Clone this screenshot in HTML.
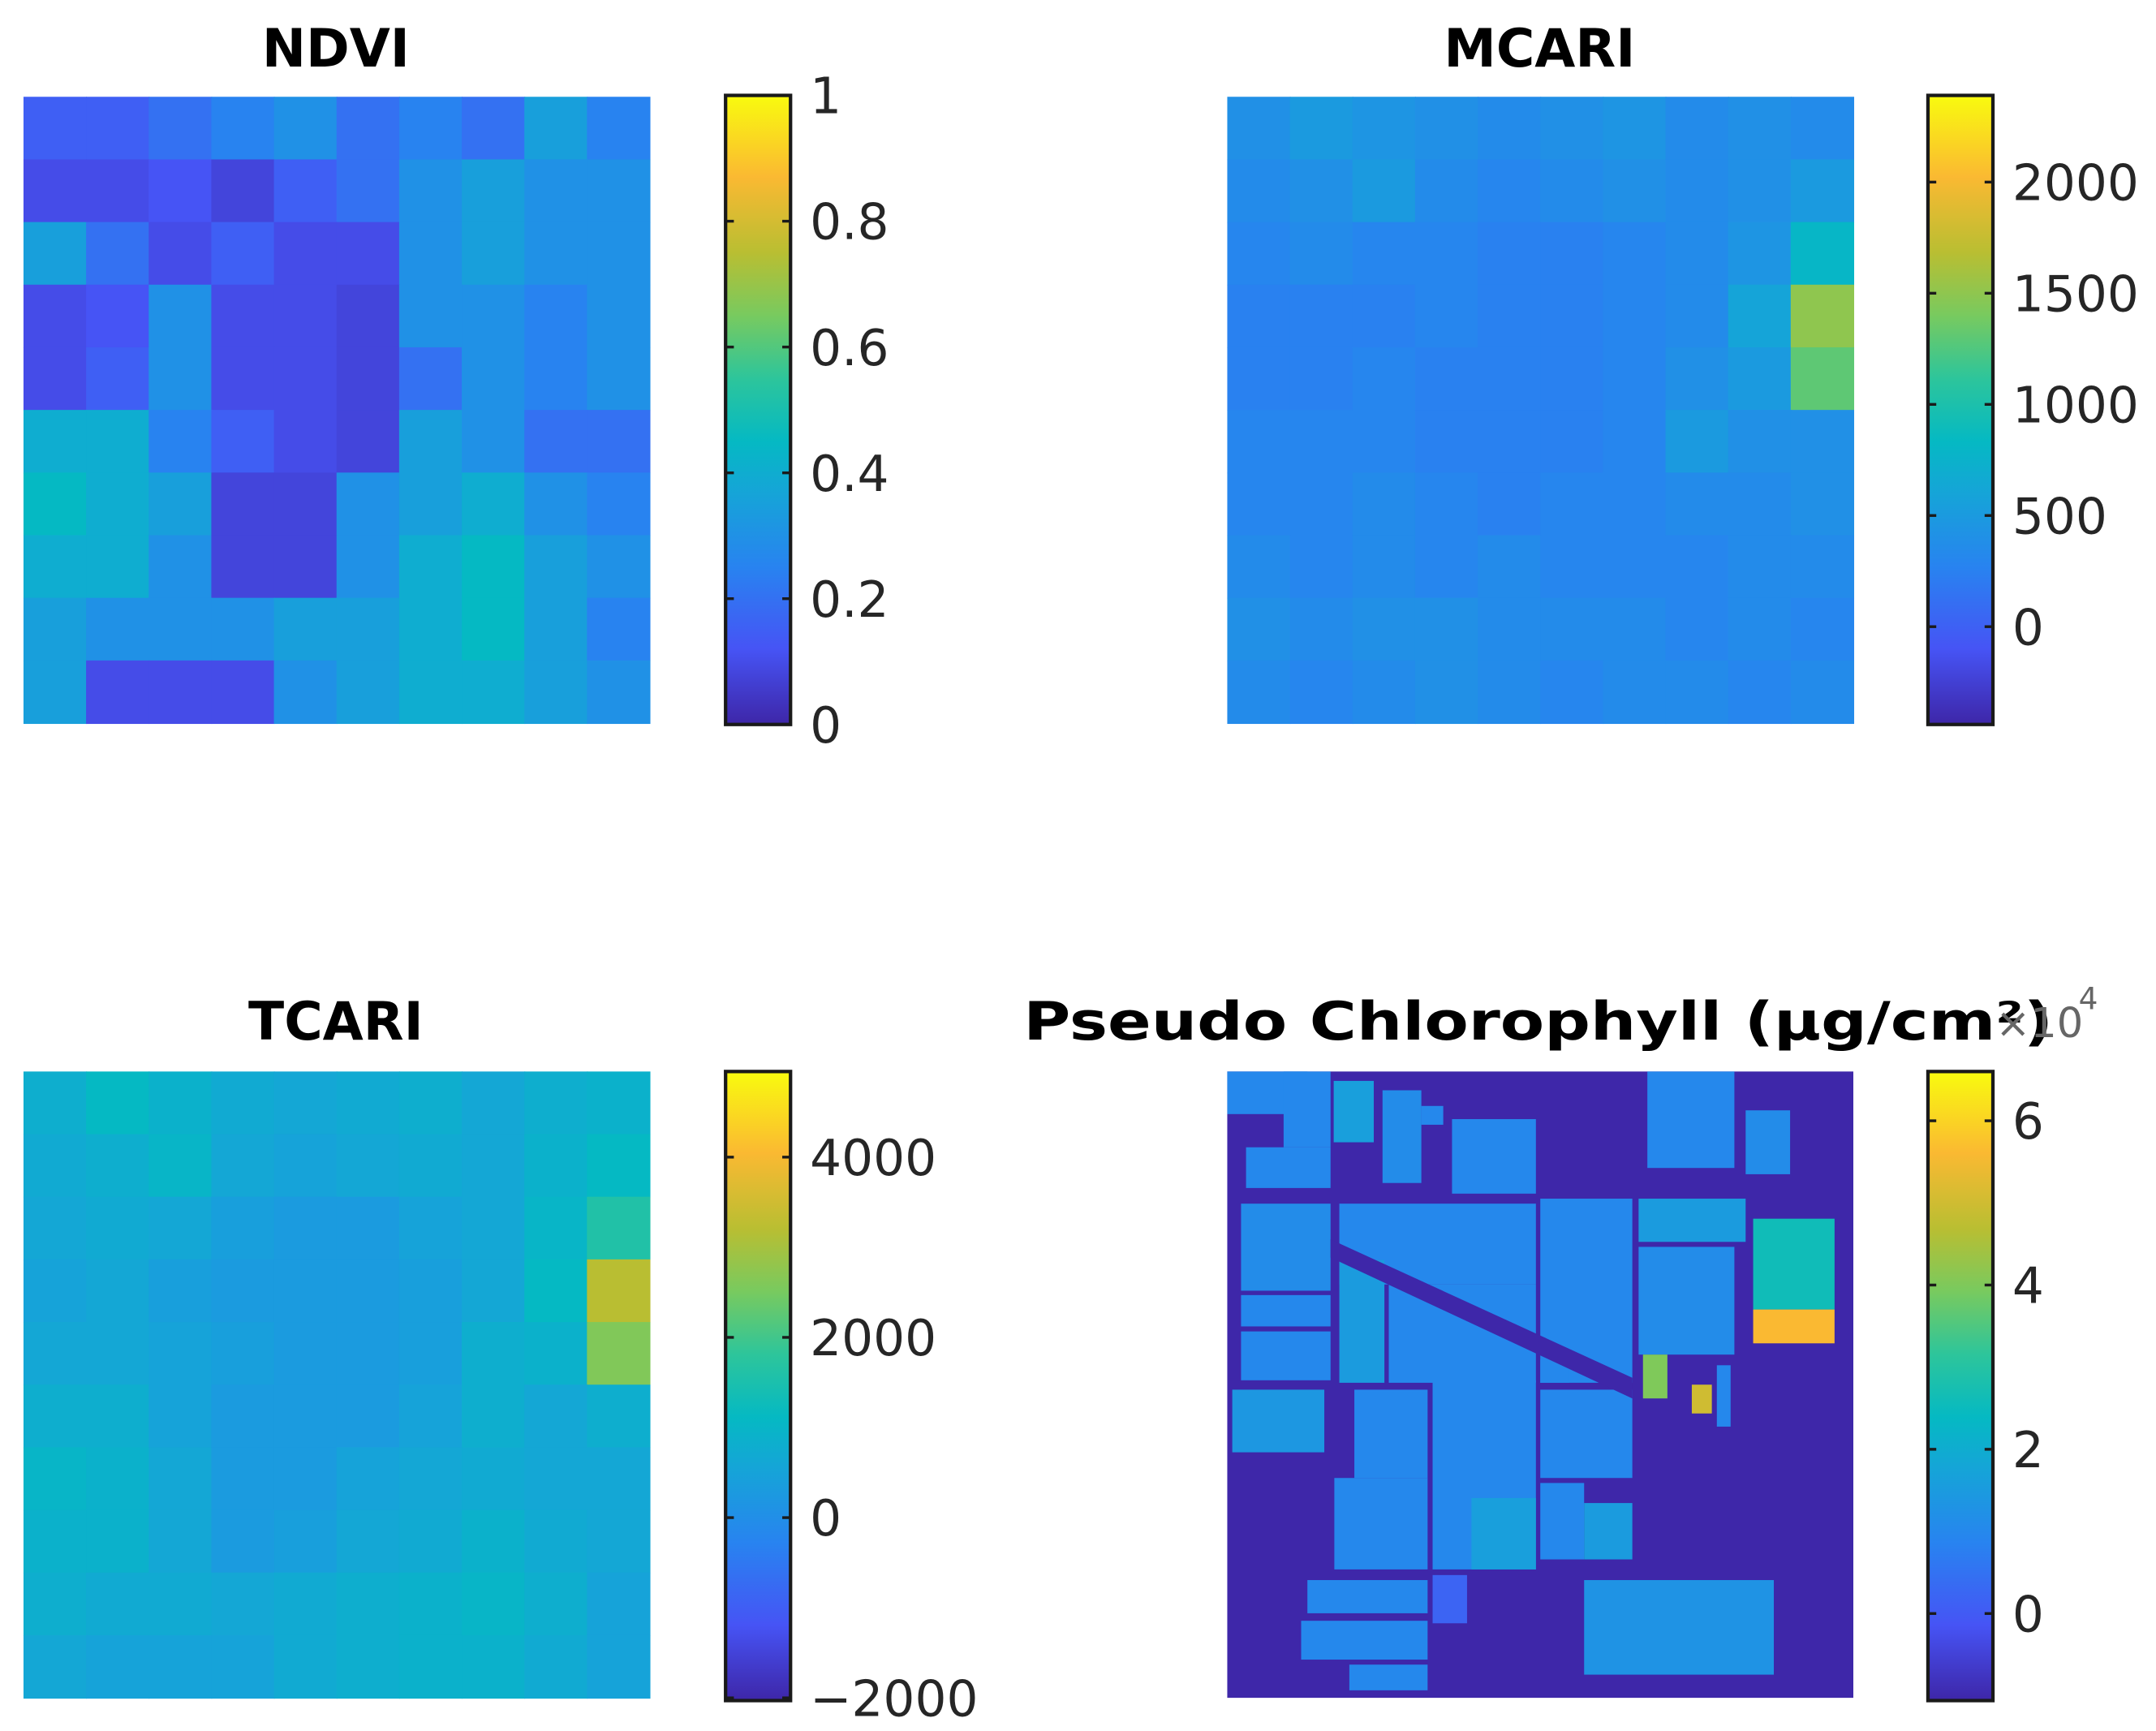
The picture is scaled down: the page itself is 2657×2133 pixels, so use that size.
<!DOCTYPE html>
<html><head><meta charset="utf-8"><style>
html,body{margin:0;padding:0;background:#fff}
svg{display:block}
text{font-family:"DejaVu Sans","Liberation Sans",sans-serif}
</style></head><body>
<svg id="fig" xmlns="http://www.w3.org/2000/svg" width="2657" height="2133" viewBox="0 0 1560 1252" preserveAspectRatio="none">
<defs>
<linearGradient id="parula" x1="0" y1="1" x2="0" y2="0">
<stop offset="0" stop-color="rgb(62,38,168)"/>
<stop offset="0.12" stop-color="rgb(70,84,245)"/>
<stop offset="0.25" stop-color="rgb(40,131,240)"/>
<stop offset="0.37" stop-color="rgb(21,165,215)"/>
<stop offset="0.45" stop-color="rgb(5,185,195)"/>
<stop offset="0.55" stop-color="rgb(45,197,155)"/>
<stop offset="0.65" stop-color="rgb(120,202,95)"/>
<stop offset="0.75" stop-color="rgb(185,190,50)"/>
<stop offset="0.87" stop-color="rgb(250,185,50)"/>
<stop offset="1" stop-color="rgb(249,251,14)"/>
</linearGradient>
</defs>
<g id="root"></g>
</svg>
<script>
// ---- data ----
const ndviGrid = [
[0.15,0.15,0.2,0.25,0.3,0.2,0.25,0.2,0.35,0.25],
[0.1,0.1,0.12,0.08,0.15,0.2,0.3,0.35,0.3,0.3],
[0.35,0.2,0.1,0.15,0.1,0.1,0.3,0.35,0.3,0.3],
[0.1,0.12,0.3,0.1,0.1,0.08,0.3,0.3,0.25,0.3],
[0.1,0.15,0.3,0.1,0.1,0.08,0.2,0.3,0.25,0.3],
[0.4,0.4,0.25,0.15,0.1,0.08,0.35,0.3,0.2,0.2],
[0.45,0.4,0.35,0.08,0.08,0.3,0.35,0.4,0.3,0.25],
[0.4,0.4,0.3,0.08,0.08,0.3,0.4,0.45,0.35,0.3],
[0.35,0.3,0.3,0.3,0.35,0.35,0.4,0.45,0.35,0.25],
[0.35,0.1,0.1,0.1,0.3,0.35,0.4,0.4,0.35,0.3]];
const mcariGrid = [
[400,500,450,400,350,400,450,350,400,350],
[350,400,500,350,300,350,400,350,400,500],
[300,350,300,300,250,250,300,350,450,800],
[250,250,250,300,250,250,300,350,600,1500],
[250,250,300,250,250,250,300,400,500,1300],
[300,300,300,250,250,250,300,500,400,400],
[300,300,350,300,250,300,300,350,350,400],
[350,300,350,300,350,300,300,300,350,350],
[400,350,400,400,350,350,350,300,350,300],
[350,300,350,400,350,300,350,350,300,350]];
const tcariGrid = [
[800,1100,900,700,600,700,800,600,800,900],
[700,800,1000,600,500,600,700,600,900,1100],
[600,700,600,400,300,300,500,600,1000,1600],
[500,600,400,300,300,300,400,600,1100,3200],
[600,600,500,400,300,300,400,800,900,2600],
[800,800,500,300,300,300,500,800,600,800],
[1000,900,600,300,300,500,600,700,600,600],
[900,900,600,300,400,600,700,900,700,600],
[800,700,700,600,700,800,900,1000,800,500],
[600,500,500,500,700,800,900,900,700,500]];
// pseudo chlorophyll fields: [u0,v0,u1,v1,value(x1e4)] in image fractions
const chlBackground = -1.05;
const chlFields = [
[0,0,0.128,0.068,1],[0.09,0,0.165,0.121,1],[0.03,0.121,0.165,0.186,1],
[0.17,0.015,0.234,0.113,1.6],[0.248,0.03,0.31,0.178,1.1],[0.31,0.055,0.345,0.085,1],
[0.359,0.076,0.493,0.195,1],[0.671,0,0.81,0.154,1],[0.828,0.062,0.899,0.164,1.1],
[0.022,0.211,0.165,0.35,1.1],[0.179,0.211,0.493,0.34,1],[0.022,0.357,0.165,0.407,1],
[0.022,0.415,0.165,0.493,1],[0.179,0.301,0.251,0.497,1.5],[0.258,0.34,0.493,0.497,1],
[0.5,0.203,0.647,0.497,1],[0.657,0.203,0.828,0.272,1.5],[0.657,0.28,0.81,0.452,1.1],
[0.84,0.235,0.97,0.38,2.6],[0.84,0.38,0.97,0.434,5.6],
[0.008,0.508,0.155,0.608,1.4],[0.203,0.508,0.32,0.649,1],[0.328,0.493,0.493,0.795,1],
[0.171,0.649,0.32,0.795,1],[0.39,0.681,0.493,0.795,1.6],[0.5,0.508,0.647,0.649,1],
[0.5,0.657,0.57,0.779,1],[0.57,0.689,0.647,0.779,1.5],[0.128,0.812,0.32,0.865,1],
[0.118,0.877,0.32,0.939,1],[0.195,0.947,0.32,0.988,1],[0.328,0.804,0.383,0.881,0.2],
[0.57,0.812,0.873,0.963,1.3],[0.664,0.452,0.703,0.522,4],[0.742,0.5,0.774,0.546,5],
[0.782,0.469,0.804,0.567,1],[0.5,0.46,0.546,0.497,1]];
const chlStrip = [[0.165,0.268],[0.647,0.489],[0.647,0.522],[0.165,0.297]];
const ndviTicks = [0,0.2,0.4,0.6,0.8,1];
const ndviTickLabels = ["0","0.2","0.4","0.6","0.8","1"];
const mcariTicks = [0,500,1000,1500,2000];
const mcariTickLabels = ["0","500","1000","1500","2000"];
const tcariTicks = [-2000,0,2000,4000];
const tcariTickLabels = ["\u22122000","0","2000","4000"];
const chlTicks = [0,2,4,6];
const chlTickLabels = ["0","2","4","6"];

// ---- helpers ----
const NS="http://www.w3.org/2000/svg";
const root=document.getElementById('root');
const stops=[[0,62,38,168],[0.12,70,84,245],[0.25,40,131,240],[0.37,21,165,215],[0.45,5,185,195],[0.55,45,197,155],[0.65,120,202,95],[0.75,185,190,50],[0.87,250,185,50],[1,249,251,14]];
function parula(t){t=Math.max(0,Math.min(1,t));for(let i=1;i<stops.length;i++){if(t<=stops[i][0]){const a=stops[i-1],b=stops[i],f=(t-a[0])/(b[0]-a[0]);return `rgb(${Math.round(a[1]+f*(b[1]-a[1]))},${Math.round(a[2]+f*(b[2]-a[2]))},${Math.round(a[3]+f*(b[3]-a[3]))})`;}}return 'rgb(249,251,14)';}
function mk(tag,attrs,parent){const e=document.createElementNS(NS,tag);for(const k in attrs)e.setAttribute(k,attrs[k]);(parent||root).appendChild(e);return e;}

function panel(cfg){
  const g=mk('g',{});
  
  
  const tattrs={x:cfg.titleX,y:cfg.titleY,'font-size':38,'font-weight':'bold','text-anchor':'middle',fill:'#000'};
  if(cfg.titleLen){tattrs.textLength=cfg.titleLen;tattrs.lengthAdjust='spacingAndGlyphs';}
  const t=mk('text',tattrs,g);
  t.textContent=cfg.title;
  
  
  const norm=v=>(v-cfg.vmin)/(cfg.vmax-cfg.vmin);
  const img=mk('g',{},g);
  
  
  const ix=cfg.ix, iy=cfg.iy, W=453, H=453;
  if(cfg.grid){
    const R=cfg.grid.length, C=cfg.grid[0].length;
    cfg.grid.forEach((row,r)=>row.forEach((v,c)=>{
      const cell=mk('rect',{x:ix+c*W/C,y:iy+r*H/R,width:W/C+0.6,height:H/R+0.6,fill:parula(norm(v))},img);
      
      
    }));
  } else {
    const bg=mk('rect',{x:ix,y:iy,width:W,height:H,fill:parula(norm(cfg.bg))},img);
    
    
    cfg.fields.forEach(f=>{
      const r=mk('rect',{x:ix+f[0]*W,y:iy+f[1]*H,width:(f[2]-f[0])*W,height:(f[3]-f[1])*H,fill:parula(norm(f[4]))},img);
      
      
    });
    const pts=cfg.strip.map(p=>(ix+p[0]*W)+','+(iy+p[1]*H)).join(' ');
    const s=mk('polygon',{points:pts,fill:parula(norm(cfg.bg))},img);
    
    
  }
  // colorbar
  const cx=cfg.cx, cy=cfg.cy, cw=47, ch=cfg.ch;
  const cb=mk('rect',{x:cx,y:cy,width:cw,height:ch,fill:'url(#parula)',stroke:'#1a1a1a','stroke-width':2.5},g);
  
  
  const yv=v=>cy+ch-(v-cfg.vmin)/(cfg.vmax-cfg.vmin)*ch;
  cfg.ticks.forEach((v,i)=>{
    const y=yv(v);
    mk('line',{x1:cx,x2:cx+6,y1:y,y2:y,stroke:'#1a1a1a','stroke-width':2},g);
    mk('line',{x1:cx+cw-6,x2:cx+cw,y1:y,y2:y,stroke:'#1a1a1a','stroke-width':2},g);
    const tl=mk('text',{x:cx+cw+14,y:y+13,'font-size':36,fill:'#262626'},g);
    tl.textContent=cfg.labels[i];
    
    
  });
  return g;
}
panel({name:'ndvi',title:'NDVI',titleX:243,titleY:48,ix:17,iy:70,grid:ndviGrid,vmin:0,vmax:1,cx:525,cy:69,ch:455,ticks:ndviTicks,labels:ndviTickLabels});
panel({name:'mcari',title:'MCARI',titleX:1114,titleY:48,ix:888,iy:70,grid:mcariGrid,vmin:-440,vmax:2390,cx:1395,cy:69,ch:455,ticks:mcariTicks,labels:mcariTickLabels});
panel({name:'tcari',title:'TCARI',titleX:243,titleY:752,ix:17,iy:775,grid:tcariGrid,vmin:-2030,vmax:4950,cx:525,cy:775,ch:455,ticks:tcariTicks,labels:tcariTickLabels});
panel({name:'chlorophyll',title:'Pseudo Chlorophyll (\u03bcg/cm\u00b2)',titleLen:745,titleX:1113,titleY:752,ix:888,iy:775,fields:chlFields,strip:chlStrip,bg:chlBackground,vmin:-1.06,vmax:6.6,cx:1395,cy:775,ch:455,ticks:chlTicks,labels:chlTickLabels});
const ex=mk('text',{x:1444,y:750,'font-size':30,fill:'#666'});
ex.textContent='\u00d710';


const ex2=mk('text',{x:1504,y:730,'font-size':22,fill:'#666'});
ex2.textContent='4';


</script>
</body></html>
